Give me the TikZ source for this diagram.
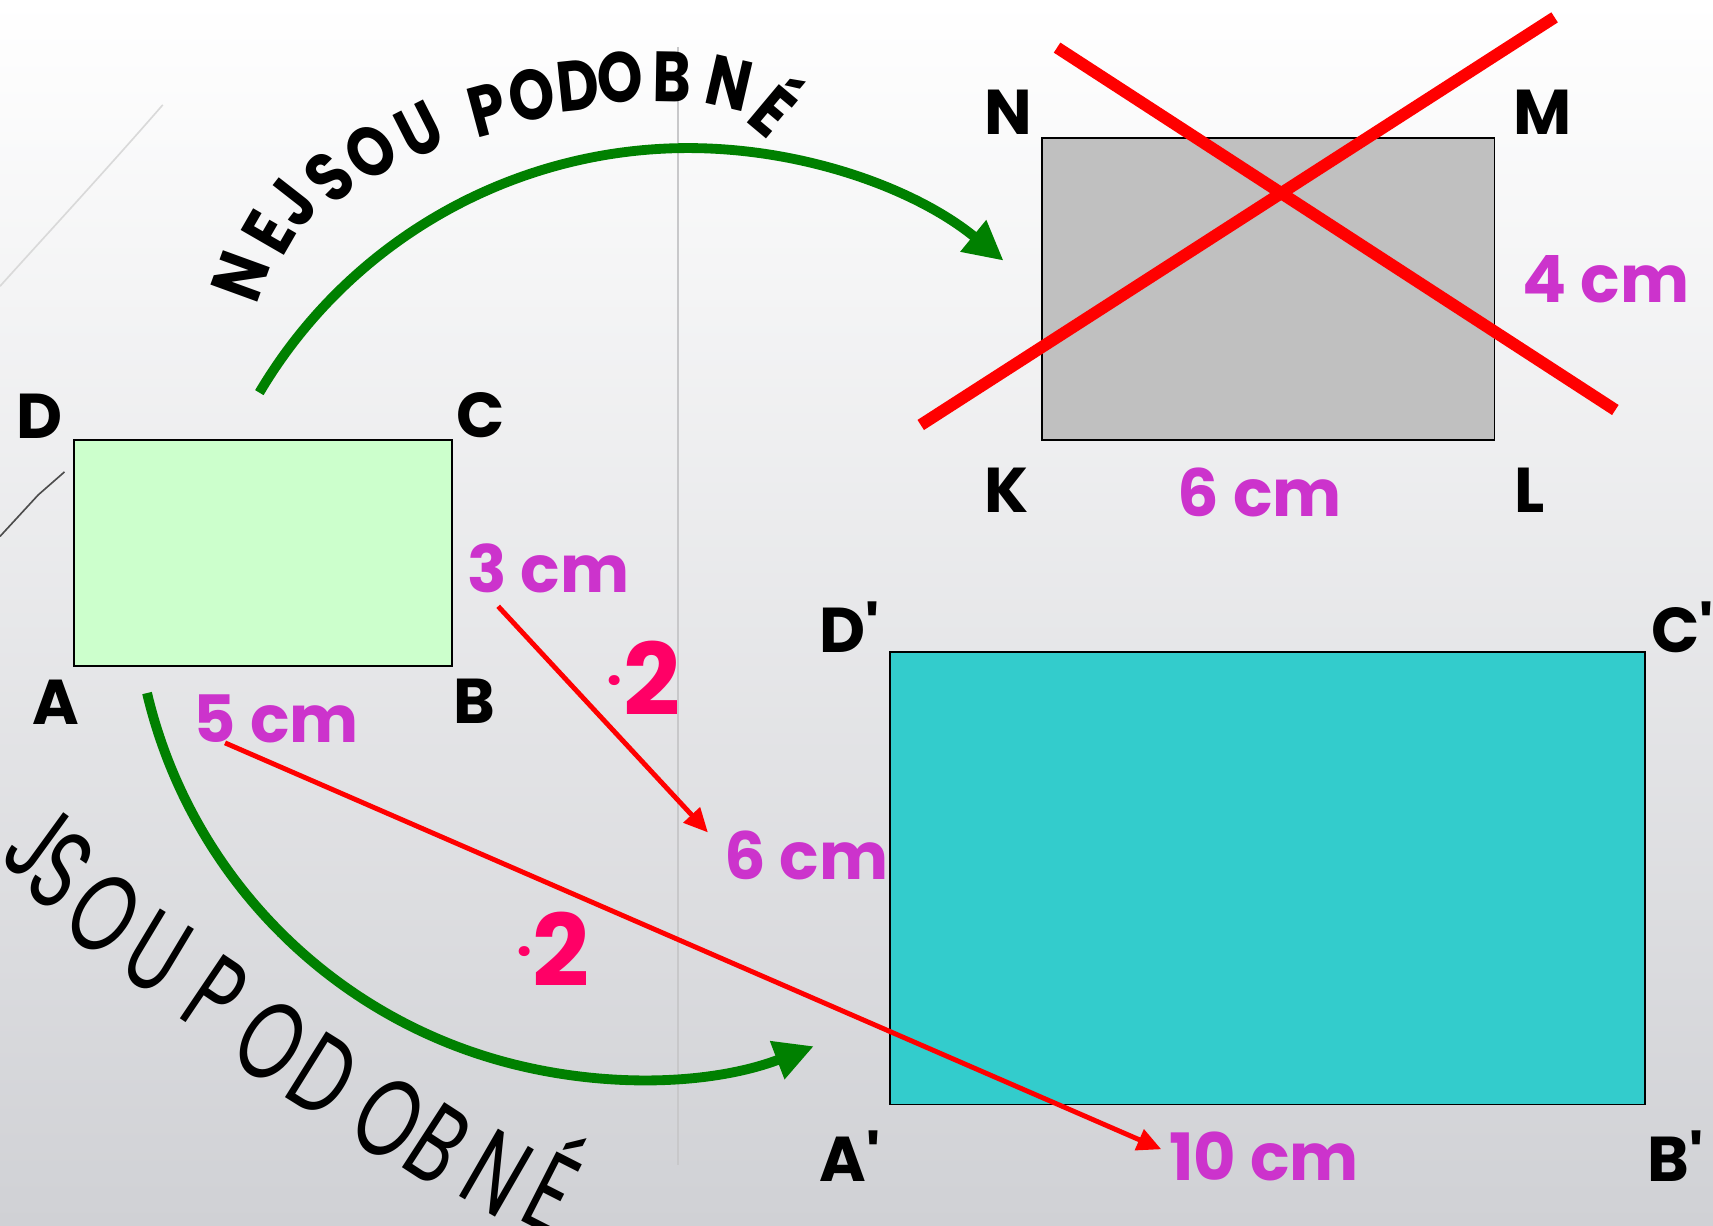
\documentclass[tikz,border=0pt]{standalone}
\usepackage{fontspec}
\setmainfont{Poppins}
\usetikzlibrary{arrows.meta}
\definecolor{leaf}{HTML}{008000}
\definecolor{strikered}{HTML}{FF0000}
\definecolor{measure}{HTML}{CC33CC}
\definecolor{factor}{HTML}{FF0066}
\definecolor{mint}{HTML}{CCFFCC}
\definecolor{silver}{HTML}{C0C0C0}
\definecolor{aqua}{HTML}{33CCCC}
\definecolor{fadebot}{HTML}{D0D1D5}
\definecolor{guide}{HTML}{C8C8CA}
\tikzset{
  every node/.style={inner sep=0},
  vertex/.style={font=\bfseries\fontsize{16.5}{17}\selectfont,text=black},
  dimtext/.style={font=\bfseries\fontsize{17}{18}\selectfont,text=measure},
  times/.style={font=\bfseries\fontsize{26}{27}\selectfont,text=factor},
  archbold/.style={font=\bfseries\fontsize{18.5}{18.5}\selectfont,text=black,xscale=.82},
  archthin/.style={font=\fontsize{29}{29}\selectfont,text=black,xscale=.68},
  figbox/.style={draw=black,line width=.18mm},
  strike/.style={draw=strikered,line width=1.1mm},
  arr/.style={-{Triangle[length=2.2mm,width=2mm]},draw=strikered,line width=.45mm},
  bigarr/.style={-{Triangle[length=3.6mm,width=3.5mm]},draw=leaf,line width=.9mm}
}
\newcommand{\timesdot}{{\fontsize{14}{14}\selectfont\raisebox{1.7mm}{·}}}

\begin{document}
\begin{tikzpicture}[x=.1mm,y=-.1mm]
\path[use as bounding box] (0,0) rectangle (1568,1122);
\shade[top color=white,bottom color=fadebot] (0,0) rectangle (1568,1122);
\draw[draw=guide,line width=.18mm] (621,43) -- (621,1066);
\draw[draw=black!15,line width=.15mm] (149,96) .. controls (95,158) and (45,212) .. (0,262);
\draw[draw=black!70,line width=.15mm] (59,432) -- (35,453) -- (0,491);
% the three rectangles
\draw[figbox,fill=mint] (68,403) rectangle (414,610);
\draw[figbox,fill=silver] (954,126) rectangle (1368,403);
\draw[figbox,fill=aqua] (815,597) rectangle (1506,1011);
\draw[strike] (967.6,43.6) -- (1478.6,375.3);
\draw[strike] (842.8,389) -- (1423,15.9);
% vertices
\node[vertex] (vD) at (36,381) {D};
\node[vertex] (vC) at (440,380) {C};
\node[vertex] (vA) at (51,643) {A};
\node[vertex] (vB) at (434,642) {B};
\node[vertex] (vN) at (923,103) {N};
\node[vertex] (vM) at (1412,103) {M};
\node[vertex] (vK) at (921,449) {K};
\node[vertex] (vL) at (1400,449) {L};
\node[vertex] (vDp) at (778,574) {D\textquotesingle};
\node[vertex] (vCp) at (1540,574) {C\textquotesingle};
\node[vertex] (vAp) at (778,1058) {A\textquotesingle};
\node[vertex] (vBp) at (1534,1058) {B\textquotesingle};
% lengths
\node[dimtext] (len5) at (253,658) {5 cm};
\node[dimtext] (len3) at (502,520) {3 cm};
\node[dimtext] (len6) at (738,783) {6 cm};
\node[dimtext] (len10) at (1157,1059) {10 cm};
\node[dimtext] (len6top) at (1153,451) {6 cm};
\node[dimtext] (len4) at (1470,256) {4 cm};
\node[times] (twoA) at (589,621) {\timesdot2};
\node[times] (twoB) at (506,869) {\timesdot2};
% scaling arrows
\coordinate (from3) at (456,555);
\coordinate (to6) at (648,762);
\coordinate (from5) at (206,680);
\coordinate (to10) at (1063,1052);
\draw[arr] (from3) -- (to6);
\draw[arr] (from5) -- (to10);
% green arcs
\draw[bigarr] (237.4,359.4) arc[start angle=-149.4,end angle=-50.7,radius=456];
\draw[bigarr] (134.6,634.4) arc[start angle=-193.3,end angle=-290.9,radius=459];
% arched words, one letter per node
\node[rotate=70,archbold] (t1) at (220,253) {N};
\node[rotate=60,archbold] (t2) at (246,213) {E};
\node[rotate=52,archbold] (t3) at (267,186) {J};
\node[rotate=45,archbold] (t4) at (302,162) {S};
\node[rotate=37,archbold] (t5) at (339,139) {O};
\node[rotate=27,archbold] (t6) at (384,119) {U};
\node[rotate=15,archbold] (t7) at (446,100) {P};
\node[rotate=10,archbold] (t8) at (487,87) {O};
\node[rotate=6,archbold] (t9) at (529,78) {D};
\node[rotate=3,archbold] (t10) at (568,71) {O};
\node[rotate=-1,archbold] (t11) at (615,70) {B};
\node[rotate=-13,archbold] (t12) at (668,76) {N};
\node[rotate=-40,archbold] (t13) at (713,95) {É};
\node[rotate=-36,archthin] (b1) at (33,770) {J};
\node[rotate=-35,archthin] (b2) at (56,797) {S};
\node[rotate=-35,archthin] (b3) at (95,836) {O};
\node[rotate=-31,archthin] (b4) at (144,872) {U};
\node[rotate=-34,archthin] (b5) at (197,911) {P};
\node[rotate=-32,archthin] (b6) at (248,953) {O};
\node[rotate=-32,archthin] (b7) at (296,985) {D};
\node[rotate=-31,archthin] (b8) at (356,1024) {O};
\node[rotate=-33,archthin] (b9) at (401,1048) {B};
\node[rotate=-30,archthin] (b10) at (455,1074) {N};
\node[rotate=-27,archthin] (b11) at (510,1081) {É};
\end{tikzpicture}
\end{document}
